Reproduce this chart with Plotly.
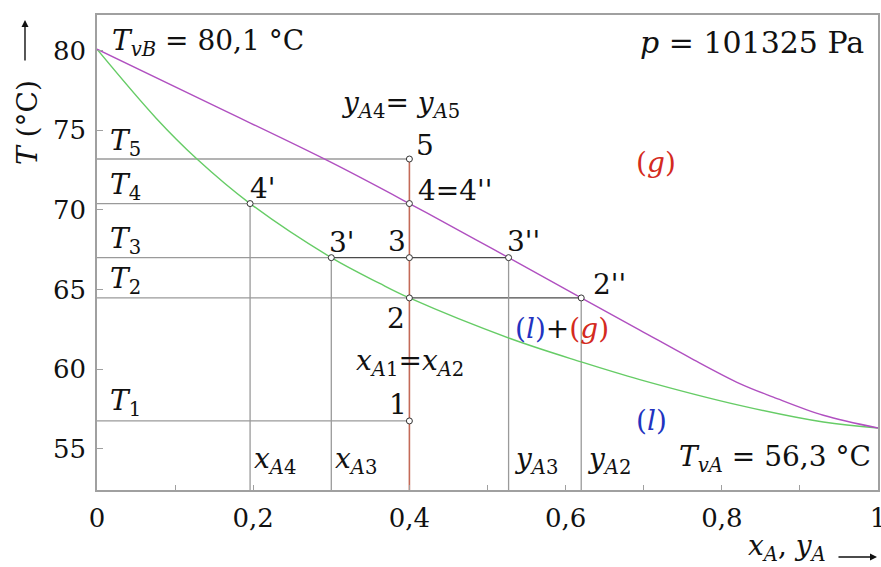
import plotly.graph_objects as go

# Boiling diagram (T–x–y) of a binary mixture at constant pressure
# liquid (bubble-point) curve
liquid_x = [0.0, 0.076, 0.128, 0.196, 0.300, 0.362, 0.400, 0.529, 0.620, 0.695, 0.823, 0.930, 1.0]
liquid_T = [80.1, 75.75, 73.2, 70.4, 67.0, 65.38, 64.47, 61.92, 60.45, 59.34, 57.72, 56.67, 56.3]
# vapour (dew-point) curve
vapor_x = [0.0, 0.150, 0.298, 0.400, 0.486, 0.527, 0.620, 0.695, 0.759, 0.823, 0.866, 0.930, 1.0]
vapor_T = [80.1, 76.55, 73.03, 70.4, 68.1, 67.0, 64.47, 62.45, 60.72, 59.09, 58.24, 57.1, 56.3]

# temperatures T1..T5
T_levels = [56.74, 64.47, 67.0, 70.4, 73.2]
T1, T2, T3, T4, T5 = T_levels
# compositions
x_A4 = 0.196
x_A3 = 0.300
x_A1 = 0.400
y_A3 = 0.527
y_A2 = 0.620

x_ticks = [0, 0.2, 0.4, 0.6, 0.8, 1.0]
x_ticktext = ["0", "0,2", "0,4", "0,6", "0,8", "1"]
x_minor = [0.1, 0.3, 0.5, 0.7, 0.9]
y_ticks = [55, 60, 65, 70, 75, 80]
y_ticktext = ["55", "60", "65", "70", "75", "80"]

X_RANGE = [0, 1]
Y_RANGE = [52.4, 82.25]
y_bot = Y_RANGE[0]

FONT = "DejaVu Serif"
GRAY = "#9a9a9a"
DARK = "#4a4a4a"
GREEN = "#66cc66"
MAGENTA = "#b050c0"
RED_LINE = "#c46a58"
RED = "#d42a20"
BLUE = "#2233c0"

fig = go.Figure()


def seg(xs, ys, color, width=1.3):
    fig.add_trace(go.Scatter(x=xs, y=ys, mode="lines",
                             line=dict(color=color, width=width),
                             hoverinfo="skip", showlegend=False))


# horizontal isotherms from the T axis
seg([0, x_A1], [T5, T5], GRAY)
seg([0, x_A1], [T4, T4], GRAY)
seg([0, x_A3], [T3, T3], GRAY)
seg([x_A3, y_A3], [T3, T3], DARK)
seg([0, x_A1], [T2, T2], GRAY)
seg([x_A1, y_A2], [T2, T2], DARK)
seg([0, x_A1], [T1, T1], GRAY)

# vertical composition lines down to the x axis
seg([x_A4, x_A4], [T4, y_bot], GRAY)
seg([x_A3, x_A3], [T3, y_bot], GRAY)
seg([y_A3, y_A3], [T3, y_bot], GRAY)
seg([y_A2, y_A2], [T2, y_bot], GRAY)

# equilibrium curves
fig.add_trace(go.Scatter(x=liquid_x, y=liquid_T, mode="lines",
                         line=dict(color=GREEN, width=1.4, shape="spline", smoothing=1.0),
                         hoverinfo="skip", showlegend=False))
fig.add_trace(go.Scatter(x=vapor_x, y=vapor_T, mode="lines",
                         line=dict(color=MAGENTA, width=1.4, shape="spline", smoothing=1.0),
                         hoverinfo="skip", showlegend=False))

# heating path of the mixture x_A1
seg([x_A1, x_A1], [T5, y_bot], RED_LINE, 1.6)

# state points
pts_x = [x_A1, x_A1, x_A1, x_A1, x_A1, x_A4, x_A3, y_A3, y_A2]
pts_T = [T5, T4, T3, T2, T1, T4, T3, T3, T2]
fig.add_trace(go.Scatter(x=pts_x, y=pts_T, mode="markers",
                         marker=dict(symbol="circle", size=6, color="white",
                                     line=dict(color="#333333", width=1)),
                         hoverinfo="skip", showlegend=False))

FS = 28
TICK_FS = 26
anns = []


def lab(x, y, text, xa="center", ya="middle", color="#111111", size=FS):
    anns.append(dict(x=x, y=y, xref="x", yref="y", text=text, showarrow=False,
                     xanchor=xa, yanchor=ya,
                     font=dict(family=FONT, size=size, color=color)))


def it(s):
    return "<i>" + s + "</i>"


def sub(s):
    return "<sub>" + s + "</sub>"


lab(0.0166, 80.55, it("T") + sub(it("vB")) + " = 80,1 °C", xa="left")
lab(0.985, 80.55, it("p") + " = 101325 Pa", xa="right", size=30)
lab(0.994, 54.4, it("T") + sub(it("vA")) + " = 56,3 °C", xa="right")

for k, Tk in zip([5, 4, 3, 2, 1], [74.26, 71.5, 68.1, 65.59, 57.91]):
    lab(0.014, Tk, it("T") + sub(str(k)), xa="left")

lab(0.388, 76.6, it("y") + sub(it("A") + "4") + "= " + it("y") + sub(it("A") + "5"))
lab(0.42, 74.08, "5")
lab(0.4085, 71.25, "4=4''", xa="left")
lab(0.2125, 71.37, "4'")
lab(0.3137, 67.98, "3'")
lab(0.384, 68.04, "3")
lab(0.5467, 68.04, "3''")
lab(0.6556, 65.33, "2''")
lab(0.3828, 63.2, "2")
lab(0.4008, 60.43, it("x") + sub(it("A") + "1") + "=" + it("x") + sub(it("A") + "2"))
lab(0.3854, 57.79, "1")

lab(0.1985, 54.27, it("x") + sub(it("A") + "4"), xa="left")
lab(0.302, 54.27, it("x") + sub(it("A") + "3"), xa="left")
lab(0.531, 54.27, it("y") + sub(it("A") + "3"), xa="left")
lab(0.625, 54.27, it("y") + sub(it("A") + "2"), xa="left")

lab(0.716, 73.0, "(" + it("g") + ")", color=RED)
lab(0.5326, 62.57,
    "<span style='color:%s'>(%s)</span>+<span style='color:%s'>(%s)</span>"
    % (BLUE, it("l"), RED, it("g")), xa="left")
lab(0.7106, 56.79, "(" + it("l") + ")", color=BLUE)

# axis titles with arrows
anns.append(dict(x=-0.0896, y=0.7726, xref="paper", yref="paper",
                 text=it("T") + " (°C)", textangle=-90, showarrow=False,
                 xanchor="center", yanchor="middle",
                 font=dict(family=FONT, size=FS, color="#111111")))
anns.append(dict(x=-0.0922, y=0.9895, xref="paper", yref="paper", text="",
                 showarrow=True, ax=0, ay=42, arrowhead=2, arrowsize=1,
                 arrowwidth=1.4, arrowcolor="#111111"))
anns.append(dict(x=0.883, y=-0.122, xref="paper", yref="paper",
                 text=it("x") + sub(it("A")) + ", " + it("y") + sub(it("A")),
                 showarrow=False, xanchor="center", yanchor="middle",
                 font=dict(family=FONT, size=FS, color="#111111")))
anns.append(dict(x=0.9987, y=-0.1412, xref="paper", yref="paper", text="",
                 showarrow=True, ax=-40, ay=0, arrowhead=2, arrowsize=1,
                 arrowwidth=1.4, arrowcolor="#111111"))

fig.update_layout(
    width=881, height=567,
    margin=dict(l=97, r=3, t=15, b=77, autoexpand=False),
    paper_bgcolor="white", plot_bgcolor="white",
    showlegend=False,
    annotations=anns,
    xaxis=dict(range=X_RANGE, showgrid=False, zeroline=False, automargin=False,
               showline=True, linecolor="#a0a0a0", linewidth=1.5, mirror=True,
               tickvals=x_ticks, ticktext=x_ticktext,
               ticks="inside", ticklen=5, tickcolor="#a0a0a0", tickwidth=1,
               minor=dict(tickvals=x_minor, ticks="inside", ticklen=5,
                          tickcolor="#a0a0a0", tickwidth=1),
               ticklabelstandoff=4, ticklabeloverflow="allow",
               tickfont=dict(family=FONT, size=TICK_FS, color="#111111")),
    yaxis=dict(range=Y_RANGE, showgrid=False, zeroline=False, automargin=False,
               showline=True, linecolor="#a0a0a0", linewidth=1.5, mirror=True,
               tickvals=y_ticks, ticktext=y_ticktext,
               ticks="inside", ticklen=6, tickcolor="#a0a0a0", tickwidth=1,
               ticklabelstandoff=4,
               tickfont=dict(family=FONT, size=TICK_FS, color="#111111")),
)

fig.write_html("out.html")
